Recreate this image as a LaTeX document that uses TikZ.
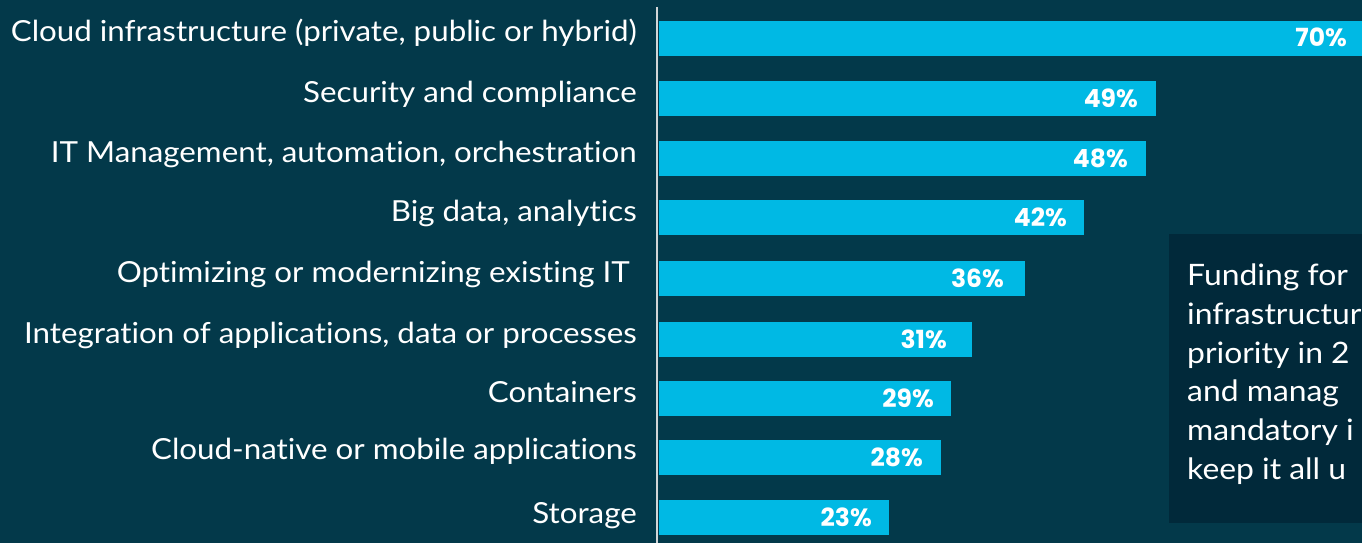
\documentclass[tikz,border=0pt]{standalone}
\usepackage{fontspec}
\setmainfont{Lato}[FakeStretch=1.08,Ligatures={NoCommon,NoRequired,NoContextual}]
\newfontfamily\pctfont{Poppins}
\newfontfamily\boxfont{Lato}[FakeStretch=1.08,Ligatures={NoCommon,NoRequired,NoContextual}]
\definecolor{bgc}{HTML}{03394A}
\definecolor{barc}{HTML}{00B9E4}
\definecolor{boxc}{HTML}{01293A}
\definecolor{axisc}{HTML}{D2D6D8}
\begin{document}
\begin{tikzpicture}[x=1pt,y=-1pt,
  catlabel/.style={anchor=base east, text=white, inner sep=0pt, font=\fontsize{29}{32}\selectfont},
  barbox/.style={fill=barc, draw=none},
  pctlabel/.style={anchor=base east, text=white, inner sep=0pt, font=\pctfont\bfseries\fontsize{25}{28}\selectfont},
  boxline/.style={anchor=base west, text=white, inner sep=0pt, font=\boxfont\fontsize{29.5}{33}\selectfont}]
\useasboundingbox (0,0) rectangle (1362,543);
\clip (0,0) rectangle (1362,543);
\fill[bgc] (0,0) rectangle (1362,543);
% bars: top / end / label baseline / label right / pct right / text
\foreach \i/\top/\xend/\lb/\lx/\px/\pct/\txt in {
  1/21/1370/42/637/1347/70/{Cloud infrastructure (private, public or hybrid)},
  2/81/1156/102/637/1138/49/{Security and compliance},
  3/141/1146/162/637/1128/48/{IT Management, automation, orchestration},
  4/200/1084/221/637/1067/42/{Big data, analytics},
  5/261/1025/282/630/1004/36/{Optimizing or modernizing existing IT},
  6/322/972/343/637/947/31/{Integration of applications, data or processes},
  7/381/951/402/637/934/29/{Containers},
  8/440/941/459/637/923/28/{Cloud-native or mobile applications},
  9/500/889/523/637/872/23/{Storage}}{
  \path[barbox] (659,\top) rectangle (\xend,\top+35);
  \node[catlabel] (cat\i) at (\lx,\lb) {\txt};
  \node[pctlabel] (pct\i) at (\px,\top+26) {\pct\%};
}
\draw[axisc, line width=2pt] (657,7) -- (657,543);
% text box
\fill[boxc] (1169,234) rectangle (1370,523);
\node[boxline] (t1) at (1187,285) {Funding for};
\node[boxline] (t2) at (1187,324) {infrastructur};
\node[boxline] (t3) at (1187,363) {priority in 2};
\node[boxline] (t4) at (1187,401) {and manag};
\node[boxline] (t5) at (1187,440) {mandatory i};
\node[boxline] (t6) at (1187,479) {keep it all u};
\end{tikzpicture}
\end{document}
